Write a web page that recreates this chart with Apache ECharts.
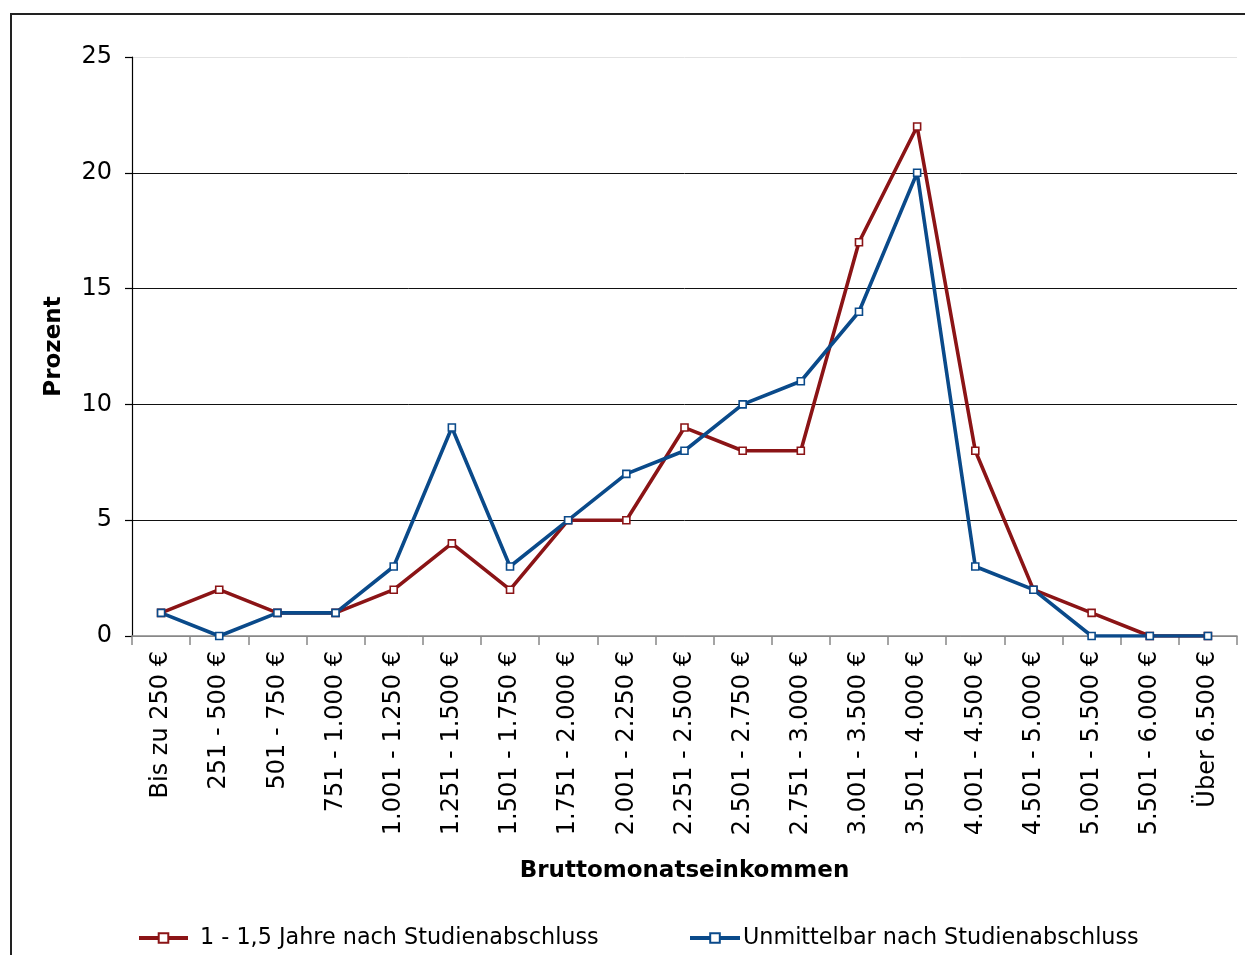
<!DOCTYPE html>
<html><head><meta charset="utf-8">
<script src="https://cdn.jsdelivr.net/npm/echarts@6/dist/echarts.min.js"></script>
<style>html,body{margin:0;padding:0;background:#fff}#c{width:1245px;height:955px}</style>
</head><body><div id="c"></div>
<script>
const categories = ["Bis zu 250 €","251 - 500 €","501 - 750 €","751 - 1.000 €","1.001 - 1.250 €","1.251 - 1.500 €","1.501 - 1.750 €","1.751 - 2.000 €","2.001 - 2.250 €","2.251 - 2.500 €","2.501 - 2.750 €","2.751 - 3.000 €","3.001 - 3.500 €","3.501 - 4.000 €","4.001 - 4.500 €","4.501 - 5.000 €","5.001 - 5.500 €","5.501 - 6.000 €","Über 6.500 €"];
const later = [1,2,1,1,2,4,2,5,5,9,8,8,17,22,8,2,1,0,0];
const immediate = [1,0,1,1,3,9,3,5,7,8,10,11,14,20,3,2,0,0,0];
const seriesNames = ["1 - 1,5 Jahre nach Studienabschluss","Unmittelbar nach Studienabschluss"];
const yTicks = {min:0, max:25, interval:5};

const FONT = "DejaVu Sans";
const RED = "#8B1416", BLUE = "#0A4A8A";
const chart = echarts.init(document.getElementById('c'), null, {renderer:'canvas'});
chart.setOption({
  animation:false,
  backgroundColor:'#fff',
  textStyle:{fontFamily:FONT},
  graphic:[{type:'rect', shape:{x:11,y:14,width:1400,height:1100}, style:{fill:'none', stroke:'#222', lineWidth:2}, z:-1}],
  grid:{left:132, right:8, top:57, bottom:319, containLabel:false},
  legend:[
    {data:[seriesNames[0]], left:137, top:927, padding:0, itemWidth:49, itemHeight:12, lineStyle:{width:4}, textStyle:{fontFamily:FONT, fontSize:22.3, color:'#000', padding:[0,0,0,7]}},
    {data:[seriesNames[1]], left:688, top:927, padding:0, itemWidth:50, itemHeight:12, lineStyle:{width:4}, textStyle:{fontFamily:FONT, fontSize:22.3, color:'#000', padding:[0,0,0,-2]}}
  ],
  xAxis:{
    type:'category', data:categories, boundaryGap:true,
    axisLine:{lineStyle:{color:'#888', width:1.5}},
    axisTick:{show:true, length:9, alignWithLabel:false, lineStyle:{color:'#888', width:1.5}},
    axisLabel:{rotate:90, interval:0, margin:15, fontFamily:FONT, fontSize:24, color:'#000'},
    name:'Bruttomonatseinkommen', nameLocation:'middle', nameGap:224,
    nameTextStyle:{fontFamily:FONT, fontSize:23, fontWeight:'bold', color:'#000'}
  },
  yAxis:{
    type:'value', min:yTicks.min, max:yTicks.max, interval:yTicks.interval,
    axisLine:{show:true, lineStyle:{color:'#000', width:1.2}},
    axisTick:{show:true, length:7, lineStyle:{color:'#000', width:1.2}},
    axisLabel:{margin:20, fontFamily:FONT, fontSize:24, color:'#000'},
    splitLine:{show:true, lineStyle:{color:['#888','#111','#111','#111','#111','#e2e2e2'], width:1}},
    name:'Prozent', nameLocation:'middle', nameGap:66, nameRotate:90,
    nameTextStyle:{fontFamily:FONT, fontSize:23, fontWeight:'bold', color:'#000'}
  },
  series:[
    {name:seriesNames[0], type:'line', data:later, symbol:'rect', symbolSize:7,
     lineStyle:{color:RED, width:3.6}, itemStyle:{color:'#fff', borderColor:RED, borderWidth:1.6}, color:RED},
    {name:seriesNames[1], type:'line', data:immediate, symbol:'rect', symbolSize:7,
     lineStyle:{color:BLUE, width:3.6}, itemStyle:{color:'#fff', borderColor:BLUE, borderWidth:1.6}, color:BLUE}
  ]
});
</script></body></html>
